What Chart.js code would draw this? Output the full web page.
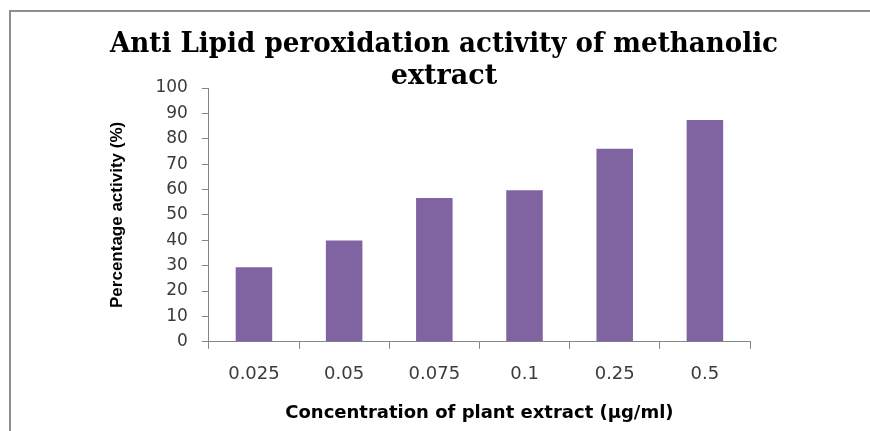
<!DOCTYPE html>
<html>
<head>
<meta charset="utf-8">
<script src="https://cdn.jsdelivr.net/npm/chart.js@4.4.1/dist/chart.umd.min.js"></script>
<style>
  body { margin: 0; background: #fff; overflow: hidden; }
</style>
</head>
<body>
<canvas id="bar-chart" width="870" height="431"></canvas>
<script>
var concentrations = ['0.025', '0.05', '0.075', '0.1', '0.25', '0.5'];
var activity = [29.4, 39.9, 56.7, 59.7, 76.1, 87.4];
var yTicks = [0, 10, 20, 30, 40, 50, 60, 70, 80, 90, 100];

var axisGray = '#868686';

// gray frame along the top and left edge, like the cropped excel chart border
var framePlugin = {
  id: 'frame',
  beforeDraw: function (chart) {
    var ctx = chart.ctx;
    ctx.save();
    ctx.strokeStyle = '#8e8e8e';
    ctx.lineWidth = 2;
    ctx.beginPath();
    ctx.moveTo(10, chart.height);
    ctx.lineTo(10, 11);
    ctx.lineTo(chart.width, 11);
    ctx.stroke();
    ctx.restore();
  }
};

function chart_set() {
	var chart = new Chart(document.getElementById("bar-chart"), {
	  type: 'bar',
	  data: {
	    labels: concentrations,
	    datasets: [
	      {
	        data: activity,
	        label: '',
	        backgroundColor: '#8064A2',
	        borderWidth: 0,
	        barPercentage: 0.5,
	        categoryPercentage: 0.81
	      }
	    ]
	  },
	  options: {
	    responsive: false,
	    animation: false,
	    layout: { padding: { left: 110, right: 92, top: 0, bottom: 0 } },
	    plugins: {
	      legend: { display: false },
	      tooltip: { enabled: false },
	      title: {
	        display: true,
	        text: ['Anti Lipid peroxidation activity of methanolic', 'extract'],
	        color: '#000',
	        font: { family: '"DejaVu Serif"', size: 27, weight: 'bold', lineHeight: 32 / 27 },
	        padding: { top: 29, bottom: -5 }
	      }
	    },
	    scales: {
	      x: {
	        grid: { display: true, drawOnChartArea: false, drawTicks: true, tickLength: 7, color: axisGray },
	        border: { display: true, color: axisGray, width: 1 },
	        ticks: { color: '#3b3b3b', padding: 15, font: { family: '"DejaVu Sans"', size: 18 } },
	        title: {
	          display: true,
	          text: 'Concentration of plant extract (\u00b5g/ml)',
	          color: '#000',
	          font: { family: '"DejaVu Sans"', size: 18, weight: 'bold', lineHeight: 1.2 },
	          padding: { top: 2, bottom: 7 }
	        }
	      },
	      y: {
	        min: 0,
	        max: 100,
	        afterBuildTicks: function (axis) {
	          axis.ticks = yTicks.map(function (v) { return { value: v }; });
	        },
	        grid: { display: true, drawOnChartArea: false, drawTicks: true, tickLength: 7, color: axisGray },
	        border: { display: true, color: axisGray, width: 1 },
	        ticks: { color: '#3b3b3b', padding: 14, font: { family: '"DejaVu Sans"', size: 17 } },
	        title: {
	          display: true,
	          text: 'Percentage activity (%)',
	          color: '#000',
	          font: { family: '"Liberation Sans"', size: 17, weight: 'bold', lineHeight: 1.2 },
	          padding: { top: -3, bottom: 14 }
	        }
	      },
	      // empty spacer on the right so the title can be wider than the plot
	      spacer: {
	        type: 'linear',
	        position: 'right',
	        display: true,
	        grid: { display: false },
	        border: { display: false },
	        ticks: { display: false },
	        afterFit: function (axis) { axis.width = 28; }
	      }
	    }
	  },
	  plugins: [framePlugin]
	});
}

chart_set();
</script>
</body>
</html>
